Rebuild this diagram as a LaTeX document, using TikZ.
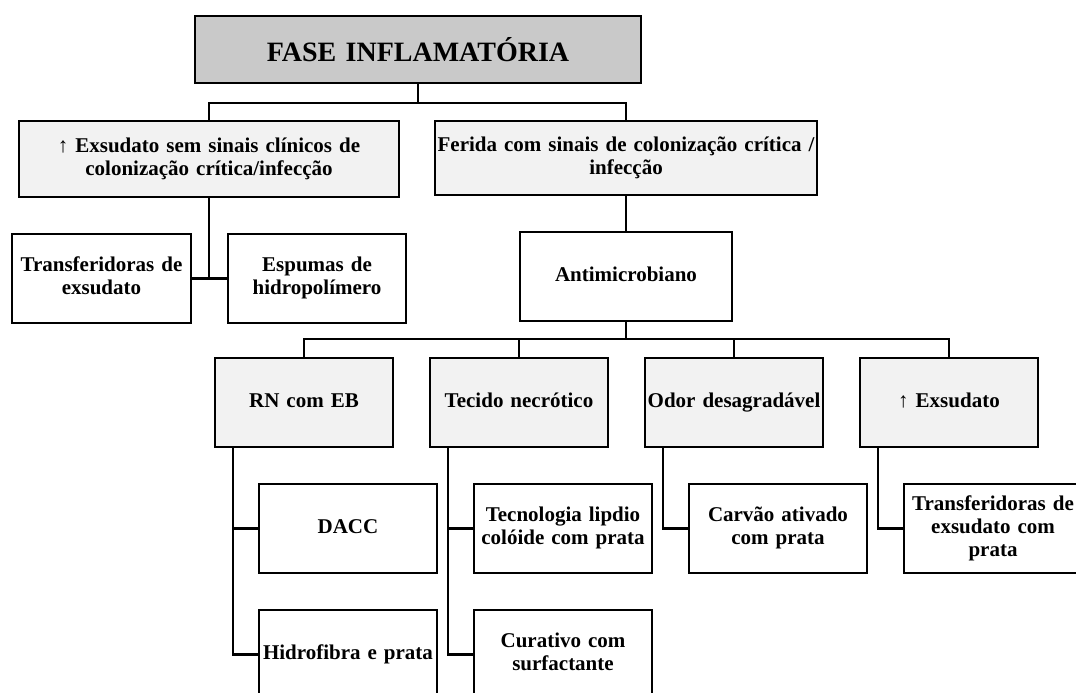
\documentclass[tikz,border=0pt]{standalone}
\usepackage{fontspec}
\setmainfont{Liberation Serif}
\usetikzlibrary{positioning}
\definecolor{headgray}{RGB}{201,201,201}
\definecolor{boxgray}{RGB}{242,242,242}

\begin{document}
\begin{tikzpicture}[
	head/.style={rectangle, draw=black, line width=2.8pt, fill=headgray, text centered, text width=442pt, minimum height=67pt, inner sep=2pt, outer sep=0pt, font=\fontsize{28pt}{32pt}\selectfont\bfseries},
	main/.style={rectangle, draw=black, line width=2.8pt, fill=boxgray, text centered, text width=174pt, minimum height=89pt, inner sep=2pt, outer sep=0pt, font=\fontsize{21pt}{23pt}\selectfont\bfseries, execute at begin node=\strut, execute at end node=\strut},
	leaf/.style={main, fill=white},
	link/.style={line width=2.5pt}
	]
	\useasboundingbox (0,0) rectangle (1076pt,-693pt);

		\node (fase) [head] at (418pt,-49.5pt) {FASE INFLAMATÓRIA};
			\node (semsinais) [main, text width=376pt, minimum height=76pt, below=38pt of fase, xshift=-209pt] {↑ Exsudato sem sinais clínicos de\\colonização crítica/infecção};
				\node (transf) [leaf, text width=175pt, below left=37pt and 18pt of semsinais.south] {Transferidoras de\\exsudato};
				\node (espumas) [leaf, below right=37pt and 19pt of semsinais.south] {Espumas de\\hidropolímero};
			\node (ferida) [main, text width=378pt, minimum height=74pt, below=38pt of fase, xshift=208pt] {Ferida com sinais de colonização crítica /\\infecção};
				\node (antimicro) [leaf, text width=208pt, below=37pt of ferida] {Antimicrobiano};
					\node (rn) [main, below=37pt of antimicro, xshift=-322pt] {RN com EB};
					\node (tecido) [main, right=37pt of rn] {Tecido necrótico};
					\node (odor) [main, right=37pt of tecido] {Odor desagradável};
					\node (maisexsud) [main, right=37pt of odor] {↑ Exsudato};
						\node (dacc) [leaf, below right=37pt and 44pt of rn.south west] {DACC};
						\node (hidro) [leaf, below=37pt of dacc] {Hidrofibra e prata};
						\node (lipido) [leaf, below right=37pt and 44pt of tecido.south west] {Tecnologia lipdio\\colóide com prata};
						\node (curativo) [leaf, below=37pt of lipido] {Curativo com\\surfactante};
						\node (carvao) [leaf, below right=37pt and 44pt of odor.south west] {Carvão ativado\\com prata};
						\node (transfprata) [leaf, below right=37pt and 44pt of maisexsud.south west] {Transferidoras de\\exsudato com\\prata};

	\draw [link] (fase.south)--++(0,-20pt)-| (semsinais.north);
	\draw [link] (fase.south)--++(0,-20pt)-| (ferida.north);
	\draw [link] (semsinais.south)--(semsinais.south |- transf.east);
	\draw [link] (transf.east)--(espumas.west);
	\draw [link] (ferida.south)--(antimicro.north);
	\foreach \n in {rn,tecido,odor,maisexsud}
		\draw [link] (antimicro.south)--++(0,-18pt)-| (\n.north);
	\draw [link] ([xshift=18pt]rn.south west) |- (dacc.west);
	\draw [link] ([xshift=18pt]rn.south west) |- (hidro.west);
	\draw [link] ([xshift=18pt]tecido.south west) |- (lipido.west);
	\draw [link] ([xshift=18pt]tecido.south west) |- (curativo.west);
	\draw [link] ([xshift=18pt]odor.south west) |- (carvao.west);
	\draw [link] ([xshift=18pt]maisexsud.south west) |- (transfprata.west);

	\end{tikzpicture}
\end{document}
